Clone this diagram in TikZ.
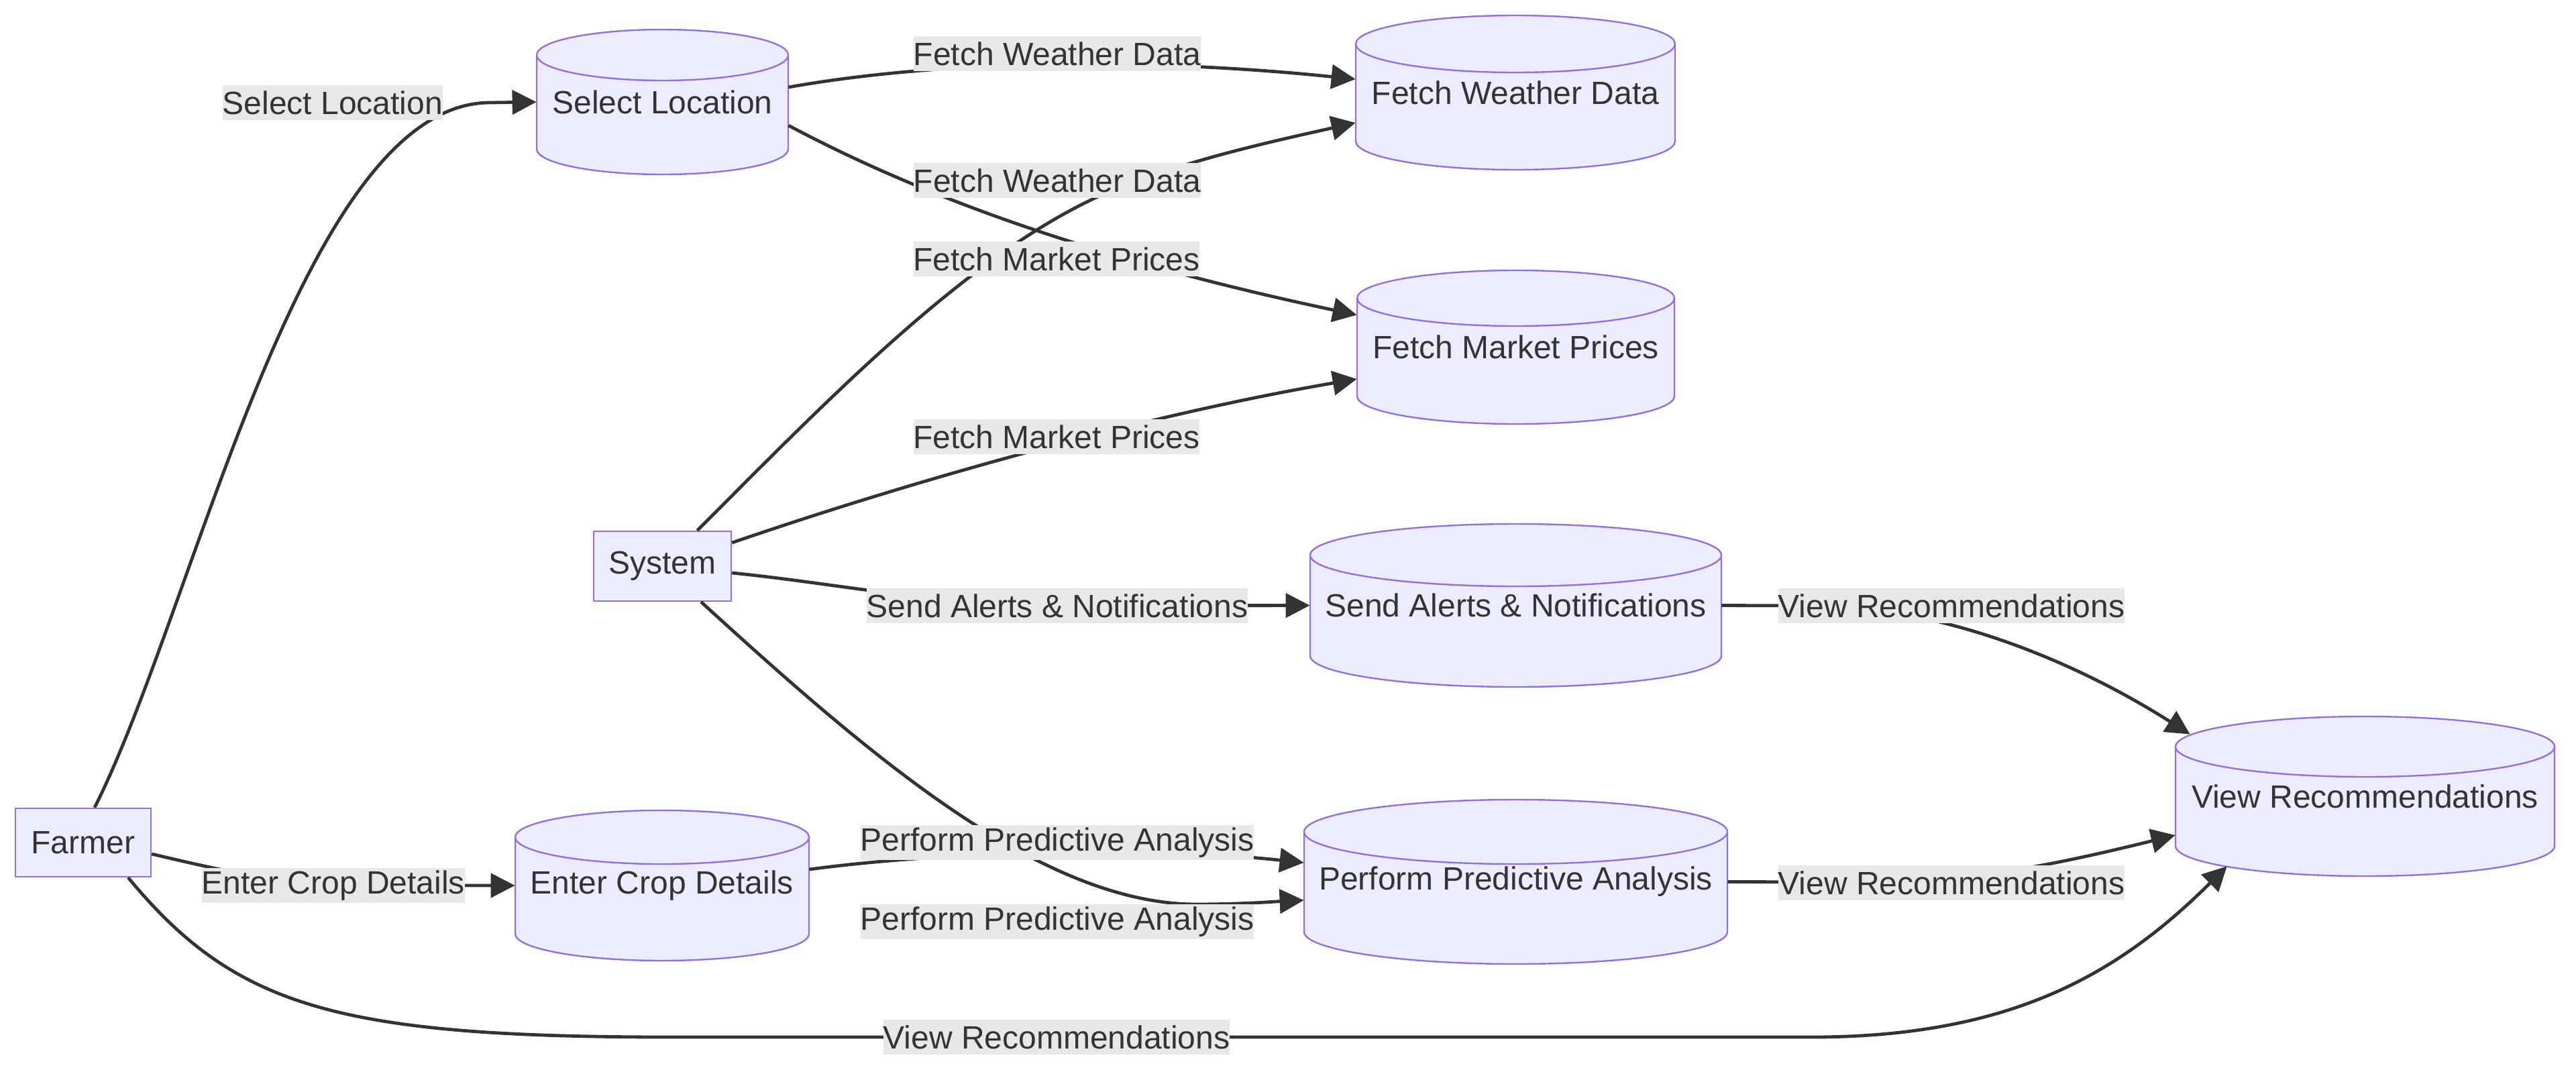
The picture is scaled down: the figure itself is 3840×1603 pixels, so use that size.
\documentclass[tikz,border=0pt]{standalone}
\usepackage{fontspec}
\setmainfont{Liberation Sans}
\usetikzlibrary{arrows.meta}
\definecolor{nodefill}{HTML}{ECECFF}
\definecolor{nodeline}{HTML}{9370DB}
\definecolor{edgecol}{HTML}{333333}
\definecolor{lblbg}{HTML}{E8E8E8}
\definecolor{txtcol}{HTML}{333333}
\newcommand\mfont{\fontsize{24pt}{28pt}\selectfont}
\tikzset{
  dbline/.style={draw=nodeline, fill=nodefill, line width=1.2pt},
  dbtext/.style={inner sep=0pt, text=txtcol, font=\mfont},
  boxnode/.style={draw=nodeline, fill=nodefill, line width=1.2pt, inner sep=0pt, text=txtcol, font=\mfont},
  lbl/.style={fill=lblbg, inner xsep=0pt, inner ysep=0pt, minimum height=26pt, text=txtcol, font=\mfont},
  edge/.style={draw=edgecol, line width=2.4pt, -{Triangle[length=18pt,width=18pt]}}
}
% #1 name, #2 centre (px), #3 width px, #4 height px, #5 ry px, #6 text
\newcommand\dbnode[6]{%
  \begin{scope}[shift={(#2)}]
    \filldraw[dbline] (-#3/2,-#4/2+#5) -- (-#3/2,#4/2-#5)
      arc[start angle=180,end angle=360,x radius=#3*0.25pt,y radius=#5*0.5pt]
      -- (#3/2,-#4/2+#5)
      arc[start angle=0,end angle=180,x radius=#3*0.25pt,y radius=#5*0.5pt] -- cycle;
    \draw[dbline, fill=none] (-#3/2,-#4/2+#5)
      arc[start angle=180,end angle=360,x radius=#3*0.25pt,y radius=#5*0.5pt];
  \end{scope}
  \node[dbtext, minimum width=#3*0.5pt, minimum height=#4*0.5pt] (#1) at (#2) {#6};
}
\begin{document}
\begin{tikzpicture}[x=0.5pt,y=-0.5pt]
\useasboundingbox (0,0) rectangle (3840,1603);

% nodes
\node[boxnode, minimum width=101pt, minimum height=51pt] (farmer) at (124,1256) {Farmer};
\node[boxnode, minimum width=102.5pt, minimum height=52pt] (sys) at (987.5,844) {System};
\dbnode{sl}{987.5,152}{375}{216}{38}{Select Location}
\dbnode{ecd}{987,1320}{438}{224}{40}{Enter Crop Details}
\dbnode{fwd}{2259,138}{476}{230}{42.5}{Fetch Weather Data}
\dbnode{fmp}{2259.5,517.5}{473}{229}{41.5}{Fetch Market Prices}
\dbnode{sa}{2259.5,902.5}{613}{243}{46.5}{Send Alerts \& Notifications}
\dbnode{ppa}{2259.5,1314.5}{631}{245}{48}{Perform Predictive Analysis}
\dbnode{vr}{3525.5,1187}{565}{238}{45}{View Recommendations}

% edges
\draw[edge] ([xshift=8.5pt]farmer.north) .. controls (291,907) and (450,154) .. (730,153) -- (sl.west);
\draw[edge] ([yshift=-8.5pt]farmer.east) .. controls (320,1295) and (420,1320) .. (560,1320) -- (ecd.west);
\draw[edge] ([xshift=33.5pt]farmer.south) .. controls (350,1500) and (500,1546) .. (1000,1546) -- (2700,1546) .. controls (3000,1546) and (3160,1450) .. ([xshift=38.5pt,yshift=7.5pt]vr.south west);
\draw[edge] ([xshift=26pt]sys.north) .. controls (1250,580) and (1480,340) .. (1700,268) .. controls (1800,232) and (1900,210) .. ([yshift=-22.5pt]fwd.west);
\draw[edge] ([yshift=17.5pt]sys.east) .. controls (1350,720) and (1700,620) .. ([yshift=-23.75pt]fmp.west);
\draw[edge] ([yshift=-5pt]sys.east) .. controls (1250,870) and (1400,903) .. (1600,903) -- (sa.west);
\draw[edge] ([xshift=28.75pt]sys.south) .. controls (1300,1130) and (1550,1345) .. (1780,1348) .. controls (1850,1348) and (1900,1344) .. ([yshift=-13.75pt]ppa.west);
\draw[edge] ([yshift=12pt]ecd.east) .. controls (1400,1270) and (1700,1260) .. ([yshift=14.25pt]ppa.west);
\draw[edge] ([yshift=11pt]sl.east) .. controls (1400,90) and (1700,85) .. ([yshift=10pt]fwd.west);
\draw[edge] ([yshift=-17.5pt]sl.east) .. controls (1350,280) and (1600,380) .. ([yshift=24pt]fmp.west);
\draw[edge] (sa.east) -- (2700,903) .. controls (2900,903) and (3100,990) .. ([xshift=11pt,yshift=-13.5pt]vr.north west);
\draw[edge] (ppa.east) -- (2800,1315) .. controls (2950,1315) and (3100,1280) .. ([yshift=-29pt]vr.west);

% edge labels
\node[lbl] (l1) at (496,153) {Select Location};
\node[lbl] (l2) at (497,1320) {Enter Crop Details};
\node[lbl] (l3) at (1575,1546) {View Recommendations};
\node[lbl] (l4) at (1576,80) {Fetch Weather Data};
\node[lbl] (l5) at (1576,269) {Fetch Weather Data};
\node[lbl] (l6) at (1575,386) {Fetch Market Prices};
\node[lbl] (l7) at (1575,651) {Fetch Market Prices};
\node[lbl] (l8) at (1576,903) {Send Alerts \& Notifications};
\node[lbl] (l9) at (1576,1256) {Perform Predictive Analysis};
\node[lbl] (l10) at (1576,1374) {Perform Predictive Analysis};
\node[lbl] (l11) at (2909,903) {View Recommendations};
\node[lbl] (l12) at (2909,1316) {View Recommendations};
\end{tikzpicture}
\end{document}
